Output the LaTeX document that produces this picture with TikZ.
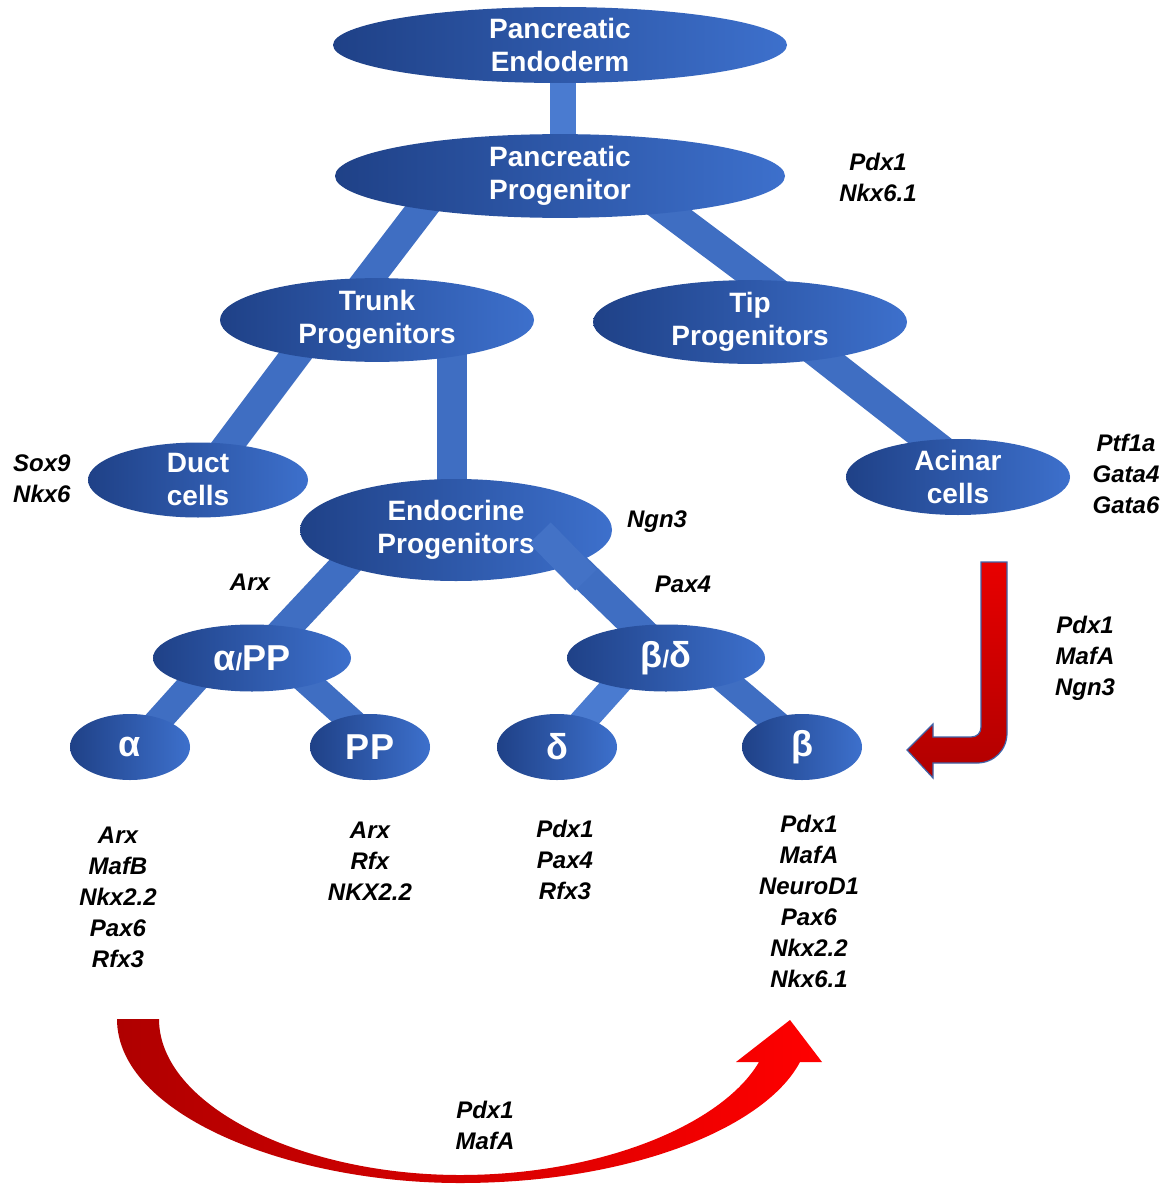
\documentclass[tikz,border=0pt]{standalone}
\usepackage{fontspec}
\setmainfont{Liberation Sans}
\usetikzlibrary{shapes.geometric,calc,backgrounds}
\pgfdeclarelayer{canvas}
\pgfsetlayers{canvas,background,main}
\definecolor{ellDark}{HTML}{1F4187}
\definecolor{ellLight}{HTML}{3D70CC}
\definecolor{bandBlue}{HTML}{3F6EC2}
\definecolor{bandLight}{HTML}{4A7BD0}
\definecolor{overBlue}{HTML}{4372C6}
\definecolor{redDark}{HTML}{B80000}
\definecolor{redBright}{HTML}{FF0000}
\definecolor{redJtop}{HTML}{E80000}
\definecolor{redJbottom}{HTML}{B00000}
\definecolor{arrowEdge}{HTML}{4063A8}
\tikzset{
  cell/.style={ellipse, inner sep=0pt, left color=ellDark, right color=ellLight,
    text=white, align=center, font=\fontsize{28}{33}\selectfont\bfseries},
  greek/.style={cell, font=\fontsize{36}{40}\selectfont\bfseries},
  band/.style={line width=30pt, draw=bandBlue, line cap=butt},
  smallband/.style={line width=27pt, draw=bandBlue, line cap=butt},
  gene/.style={align=center, font=\fontsize{24}{31}\selectfont\bfseries\itshape, text=black, inner sep=0pt},
}
\begin{document}
\begin{tikzpicture}[x={(1pt,0)}, y={(0,-1pt)}]
\useasboundingbox (0,0) rectangle (1175,1185);
\begin{pgfonlayer}{canvas}
\fill[white] (0,0) rectangle (1175,1185);
\end{pgfonlayer}

% nodes
\node[cell, minimum width=454pt, minimum height=76pt] (endo) at (560,45) {Pancreatic\\Endoderm};
\node[cell, minimum width=450pt, minimum height=76pt] (prog) at (560,176) {Pancreatic\\Progenitor};
\node[cell, minimum width=314pt, minimum height=74pt] (trunk) at (377,320) {Trunk\\Progenitors};
\node[cell, minimum width=314pt, minimum height=74pt] (tip) at (750,322) {Tip\\Progenitors};
\node[cell, minimum width=220pt, minimum height=75pt] (duct) at (198,480) {Duct\\cells};
\node[cell, minimum width=224pt, minimum height=76pt] (acinar) at (958,477) {Acinar\\cells};
\node[cell, minimum width=312pt, minimum height=102pt] (endoc) at (456,530) {Endocrine\\Progenitors};
\node[greek, minimum width=198pt, minimum height=67pt] (aPP) at (252,658) {α{\fontsize{24}{24}\selectfont/}PP};
\node[greek, minimum width=198pt, minimum height=67pt] (bd) at (666,658) {β{\fontsize{24}{24}\selectfont/}δ};
\node[greek, minimum width=120pt, minimum height=66pt] (alpha) at (130,747) {α};
\node[greek, minimum width=120pt, minimum height=66pt] (pp) at (370,747) {PP};
\node[greek, minimum width=120pt, minimum height=66pt] (delta) at (557,747) {δ};
\node[greek, minimum width=120pt, minimum height=66pt] (beta) at (802,747) {β};

% connectors (behind nodes)
\begin{scope}[on background layer]
\draw[line width=26pt, draw=bandLight, line cap=butt] ($(endo.center)+(3,0)$) -- ($(prog.center)+(3,0)$);
\draw[band] ($(prog.center)+(-113,0)$) -- ($(trunk.center)+(-40,0)$);
\draw[band] ($(prog.center)+(61,0)$) -- ($(tip.center)+(66,0)$);
\draw[band] ($(trunk.center)+(-55,0)$) -- ($(duct.center)+(4,0)$);
\draw[band] ($(trunk.center)+(75,0)$) -- ($(endoc.center)+(-4,0)$);
\draw[band] ($(tip.center)+(28,0)$) -- ($(acinar.center)+(18,0)$);
\draw[band] ($(endoc.center)+(-78,0)$) -- ($(aPP.center)+(6,0)$);
\draw[band] ($(endoc.center)+(81,0)$) -- ($(bd.center)+(3,0)$);
\draw[smallband] ($(aPP.center)+(-37,0)$) -- ($(alpha.center)+(5,0)$);
\draw[smallband] ($(aPP.center)+(29,0)$) -- ($(pp.center)+(10,0)$);
\draw[smallband, draw=bandLight] ($(bd.center)+(-26,0)$) -- ($(delta.center)+(3,0)$);
\draw[smallband] ($(bd.center)+(33,0)$) -- ($(beta.center)+(2,0)$);
\end{scope}
% overlapping piece of the Endocrine -> beta/delta connector
\coordinate (ovA) at ($(endoc.center)+(84,3)$);
\coordinate (ovB) at ($(endoc.center)+(130,50)$);
\draw[line width=30pt, draw=overBlue, line cap=butt] (ovA) -- (ovB);

% gene labels
\node[gene] (gProg) at (878,177) {Pdx1\\Nkx6.1};
\node[gene, anchor=west, align=left] (gDuct) at (13,479) {Sox9\\Nkx6};
\node[gene] (gAcinar) at (1126,474) {Ptf1a\\Gata4\\Gata6};
\node[gene] (gNgn) at (657,522) {Ngn3};
\node[gene] (gArx) at (250,582) {Arx};
\node[gene] (gPax) at (683,584) {Pax4};
\node[gene] (gTrans) at (1085,658) {Pdx1\\MafA\\Ngn3};
\node[gene] (gAlpha) at (118,897) {Arx\\MafB\\Nkx2.2\\Pax6\\Rfx3};
\node[gene] (gPP) at (370,861) {Arx\\Rfx\\NKX2.2};
\node[gene] (gDelta) at (565,860) {Pdx1\\Pax4\\Rfx3};
\node[gene] (gBeta) at (809,901) {Pdx1\\MafA\\NeuroD1\\Pax6\\Nkx2.2\\Nkx6.1};
\node[gene] (gBottom) at (485,1125) {Pdx1\\MafA};

% J-shaped red arrow (acinar -> beta)
\shadedraw[top color=redJtop, bottom color=redJbottom, draw=arrowEdge, line width=1.2pt, line join=miter]
  (981,562) -- (1007,562) -- (1007,733)
  .. controls (1007,750) and (994,763) .. (977,763)
  -- (933,763) -- (933,778) -- (907,750) -- (933,724) -- (933,737) -- (971,737)
  .. controls (977,737) and (981,733) .. (981,727) -- cycle;

% bottom curved red arrow (alpha -> beta)
\shade[left color=redDark!95!black, right color=redBright]
  (117,1019) .. controls (117,1115) and (290,1183) .. (460,1183)
  .. controls (630,1183) and (765,1128) .. (800,1062)
  -- (822,1062) -- (790,1020) -- (736,1062) -- (759,1062)
  .. controls (722,1125) and (600,1175) .. (460,1175)
  .. controls (300,1175) and (159,1105) .. (159,1019) -- cycle;
\end{tikzpicture}
\end{document}
